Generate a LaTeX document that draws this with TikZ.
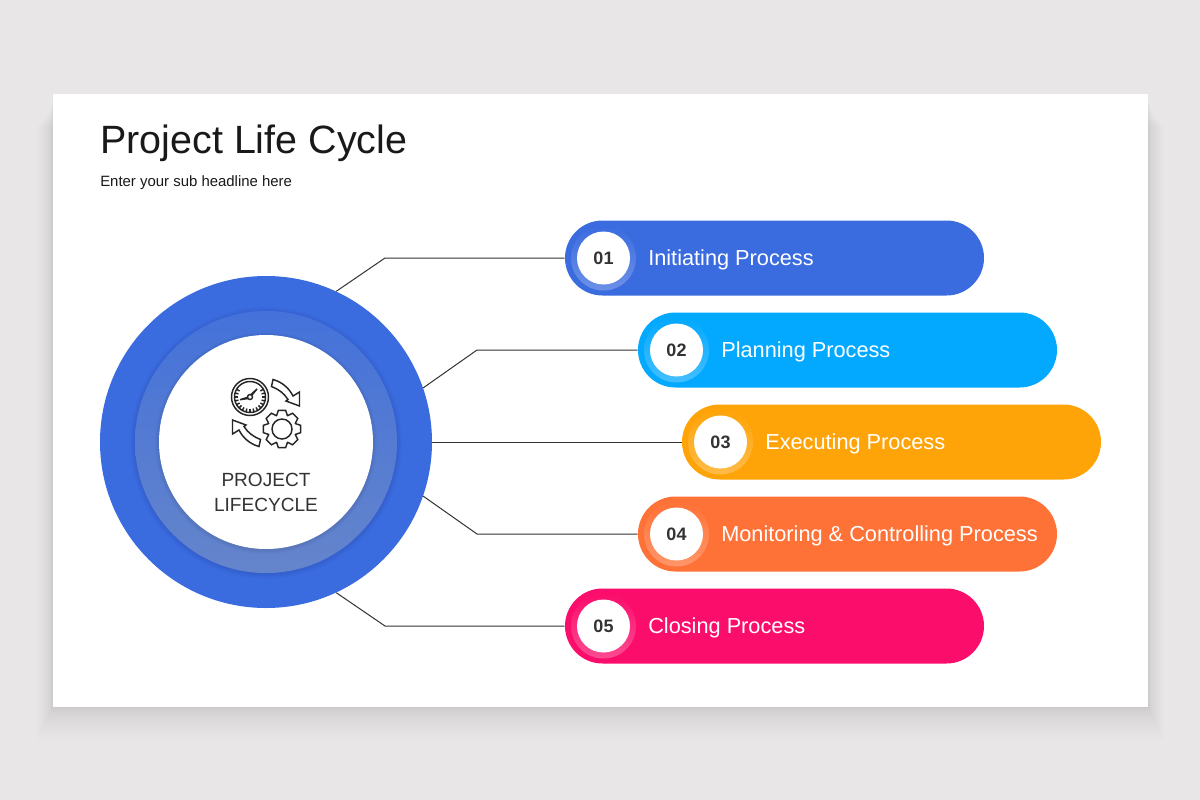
\documentclass[tikz,border=0pt]{standalone}
\usepackage{fontspec}
\setmainfont{Liberation Sans}
\usetikzlibrary{shapes.misc,fadings}

\definecolor{pagegray}{HTML}{E8E6E7}
\definecolor{inkgray}{HTML}{333333}
\definecolor{royal}{HTML}{3A6BDF}
\definecolor{sky}{HTML}{03A9FF}
\definecolor{amber}{HTML}{FFA408}
\definecolor{coral}{HTML}{FF7237}
\definecolor{magenta1}{HTML}{FB0D6B}
\definecolor{ringtop}{HTML}{4472DA}
\definecolor{ringmid}{HTML}{5E80CE}
\definecolor{ringlow}{HTML}{6585CB}

\tikzset{
  pill/.style={rounded rectangle,fill=#1,inner sep=0pt,minimum width=314.25pt,minimum height=56.25pt},
  halo/.style={circle,fill=white,fill opacity=.26,path fading=north,inner sep=0pt,minimum size=48.75pt},
  badge/.style={circle,fill=white,inner sep=0pt,minimum size=39.75pt,text=inkgray,font=\fontsize{13.5}{16}\selectfont\bfseries},
  caption/.style={anchor=west,inner sep=0pt,text=white,font=\fontsize{16.3}{19}\selectfont},
  link/.style={draw=inkgray,line width=.75pt},
  icon/.style={draw=black!85,line width=1.1pt}
}

\begin{document}
\begin{tikzpicture}[x=.75pt,y=-.75pt]

      \useasboundingbox (0,0) rectangle (1200,800);
      \fill[pagegray] (0,0) rectangle (1200,800);

      % card and its soft shadow
      \foreach \s in {1,...,16}
        \fill[black,opacity=.007] (53-\s*\s/16,94+2*\s) rectangle (1148+\s*\s/16,707+\s*\s/8);
      \fill[white] (53,94) rectangle (1148,707);

      \node[anchor=west,inner sep=0pt,text=black!90,font=\fontsize{29.6}{34}\selectfont] (title) at (100,143) {Project Life Cycle};
      \node[anchor=west,inner sep=0pt,text=black!90,font=\fontsize{11.2}{13}\selectfont] (subtitle) at (100,183) {Enter your sub headline here};

      % hub
      \node[circle,fill=royal,inner sep=0pt,minimum size=249pt] (hub) at (266,442) {};
      \foreach \s in {1,...,5}
        \fill[black,opacity=.012] (266,443) circle (131+\s);
      \node[circle,top color=ringtop,middle color=ringmid,bottom color=ringlow,inner sep=0pt,minimum size=196.5pt] (hubring) at (266,442) {};
      \foreach \s in {1,...,4}
        \fill[black,opacity=.02] (266,443) circle (107+\s);
      \node[circle,fill=white,inner sep=0pt,minimum size=160.5pt] (hubcore) at (266,442) {};
      \node[align=center,inner sep=0pt,text=inkgray,font=\fontsize{14.3}{18.7}\selectfont] (hubtext) at (266,492) {PROJECT\\LIFECYCLE};

      % gauge
      \begin{scope}[shift={(250,397)},icon]
        \draw (0,0) circle (18.5);
        \draw (0,0) circle (15.5);
        \draw (0,0) circle (2.5);
        \foreach \a in {-30,-15,...,210}
          \draw (\a:12) -- (\a:15.5);
        \draw (2,-2) -- (7,-8) -- (1,-2.5);
        \draw (-2.3,.3) -- (-10,2.7) -- (-2,1.5);
      \end{scope}

      % gear
      \begin{scope}[shift={(282,429)},icon]
        \draw (-22:14.5) \foreach \a in {0,45,...,315} {-- (\a-22:14.5) -- (\a-11:19) -- (\a+11:19) -- (\a+22:14.5)} -- cycle;
        \draw (0,0) circle (10);
      \end{scope}

      % two turning arrows
      \foreach \a in {0,180} {
        \begin{scope}[rotate around={\a:(266,413)},icon]
          \draw (273,379.5) .. controls (282,382) and (289,388) .. (293,396) -- (299.5,392) -- (299.5,406) -- (286,401) -- (288,399.5)
            .. controls (284,393) and (278,389) .. (271.5,386.5) -- cycle;
        \end{scope}
      }

      % knees of the connectors
      \coordinate (k1) at (385,258);
      \coordinate (k2) at (477,350);
      \coordinate (k4) at (477,534);
      \coordinate (k5) at (385,626);

      \begin{scope}[every node/.style={pill=royal}]
        \node[pill=royal] (1) at (774.5,258) {};
        \node[pill=sky] (2) at (847.5,350) {};
        \node[pill=amber] (3) at (891.5,442) {};
        \node[pill=coral] (4) at (847.5,534) {};
        \node[pill=magenta1] (5) at (774.5,626) {};
      \end{scope}

      \draw[link] (hub.65) -- (k1) -- (1.west);
      \draw[link] (hub.19) -- (k2) -- (2.west);
      \draw[link] (hub.east) -- (3.west);
      \draw[link] (hub.-19) -- (k4) -- (4.west);
      \draw[link] (hub.-65) -- (k5) -- (5.west);

      \begin{scope}[every node/.style={halo}]
        \node (h1) at (603.5,258) {};
        \node (h2) at (676.5,350) {};
        \node (h3) at (720.5,442) {};
        \node (h4) at (676.5,534) {};
        \node (h5) at (603.5,626) {};
      \end{scope}

      \begin{scope}[every node/.style={badge}]
        \node (n1) at (h1) {01};
        \node (n2) at (h2) {02};
        \node (n3) at (h3) {03};
        \node (n4) at (h4) {04};
        \node (n5) at (h5) {05};
      \end{scope}

      \begin{scope}[every node/.style={caption}]
        \node (c1) at (648,260) {Initiating Process};
        \node (c2) at (721,352) {Planning Process};
        \node (c3) at (765,444) {Executing Process};
        \node (c4) at (721,536) {Monitoring \& Controlling Process};
        \node (c5) at (648,628) {Closing Process};
      \end{scope}

    \end{tikzpicture}
\end{document}
